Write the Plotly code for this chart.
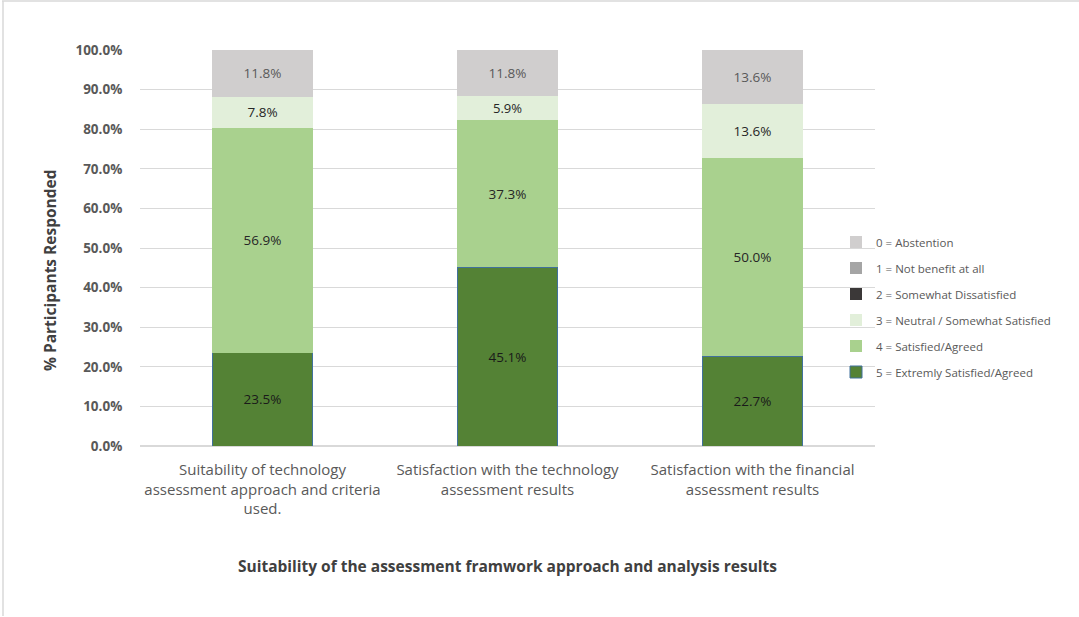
import plotly.graph_objects as go

categories = [
    "Suitability of technology<br>assessment approach and criteria<br>used.",
    "Satisfaction with the technology<br>assessment results",
    "Satisfaction with the financial<br>assessment results",
]
series_names = [
    "5 = Extremly Satisfied/Agreed",
    "4 = Satisfied/Agreed",
    "3 = Neutral / Somewhat Satisfied",
    "2 = Somewhat Dissatisfied",
    "1 = Not benefit at all",
    "0 = Abstention",
]
v5 = [23.5, 45.1, 22.7]
v4 = [56.9, 37.3, 50.0]
v3 = [7.8, 5.9, 13.6]
v2 = [0.0, 0.0, 0.0]
v1 = [0.0, 0.0, 0.0]
v0 = [11.8, 11.8, 13.6]
values = [v5, v4, v3, v2, v1, v0]
colors = ["#548235", "#a9d18e", "#e2efda", "#3b3838", "#a5a5a5", "#d0cece"]
text_colors = ["#1a1a1a", "#262626", "#262626", "#262626", "#404040", "#595959"]
line_colors = ["#41719c", None, None, None, None, None]

FONT = "Open Sans"
L, R, T, B = 140, 875, 50, 446
PW, PH = R - L, B - T

fig = go.Figure()
for i, (name, vals) in enumerate(zip(series_names, values)):
    txt = [f"{v:.1f}%" if v > 0 else "" for v in vals]
    fig.add_trace(go.Bar(
        x=categories, y=vals, name=name,
        marker=dict(color=colors[i],
                    line=dict(color=line_colors[i] or colors[i], width=1 if line_colors[i] else 0)),
        text=txt, textposition="inside", insidetextanchor="middle",
        textfont=dict(color=text_colors[i], size=13.5, family=FONT),
        legendgroup=name, legendrank=100 - i,
        hoverinfo="skip",
    ))

fig.update_layout(
    barmode="stack",
    bargap=0.59,
    width=1079, height=617,
    paper_bgcolor="white", plot_bgcolor="white",
    font=dict(family=FONT, color="#595959", size=13),
    margin=dict(l=L, r=1079 - R, t=T, b=617 - B),
    legend=dict(
        traceorder="grouped", tracegroupgap=7,
        x=(836 - L) / PW, y=(B - 307) / PH, xanchor="left", yanchor="middle",
        font=dict(size=11.5, color="#595959", family=FONT),
        itemwidth=30, bgcolor="rgba(0,0,0,0)",
    ),
    xaxis=dict(
        title=dict(text="<b>Suitability of the assessment framwork approach and analysis results</b>",
                   font=dict(size=15.5, color="#404040"), standoff=44),
        tickfont=dict(size=15, color="#595959"),
        showline=False, ticks="outside", ticklen=10, tickcolor="white",
    ),
    yaxis=dict(
        range=[0, 100], dtick=10, tickformat=".1f", ticksuffix="%",
        tickfont=dict(size=13.5, color="#595959", weight="bold"),
        showgrid=True, gridcolor="#d9d9d9", gridwidth=1,
        zeroline=True, zerolinecolor="#d9d9d9",
        ticklen=14, ticks="outside", tickcolor="white",
    ),
    annotations=[dict(
        text="<b>% Participants Responded</b>", textangle=-90,
        xref="paper", yref="paper", x=(50 - L) / PW, y=(B - 270) / PH,
        xanchor="center", yanchor="middle", showarrow=False,
        font=dict(size=15.5, color="#404040", family=FONT),
    )],
    shapes=[
        dict(type="line", xref="paper", yref="paper",
             x0=(2 - L) / PW, x1=(1079 - L) / PW, y0=(B - 1) / PH, y1=(B - 1) / PH,
             line=dict(color="#d9d9d9", width=1.5), layer="below"),
        dict(type="line", xref="paper", yref="paper",
             x0=(3 - L) / PW, x1=(3 - L) / PW, y0=(B - 1) / PH, y1=(B - 616) / PH,
             line=dict(color="#d9d9d9", width=1.5), layer="below"),
    ],
)

fig.write_html("out.html")
